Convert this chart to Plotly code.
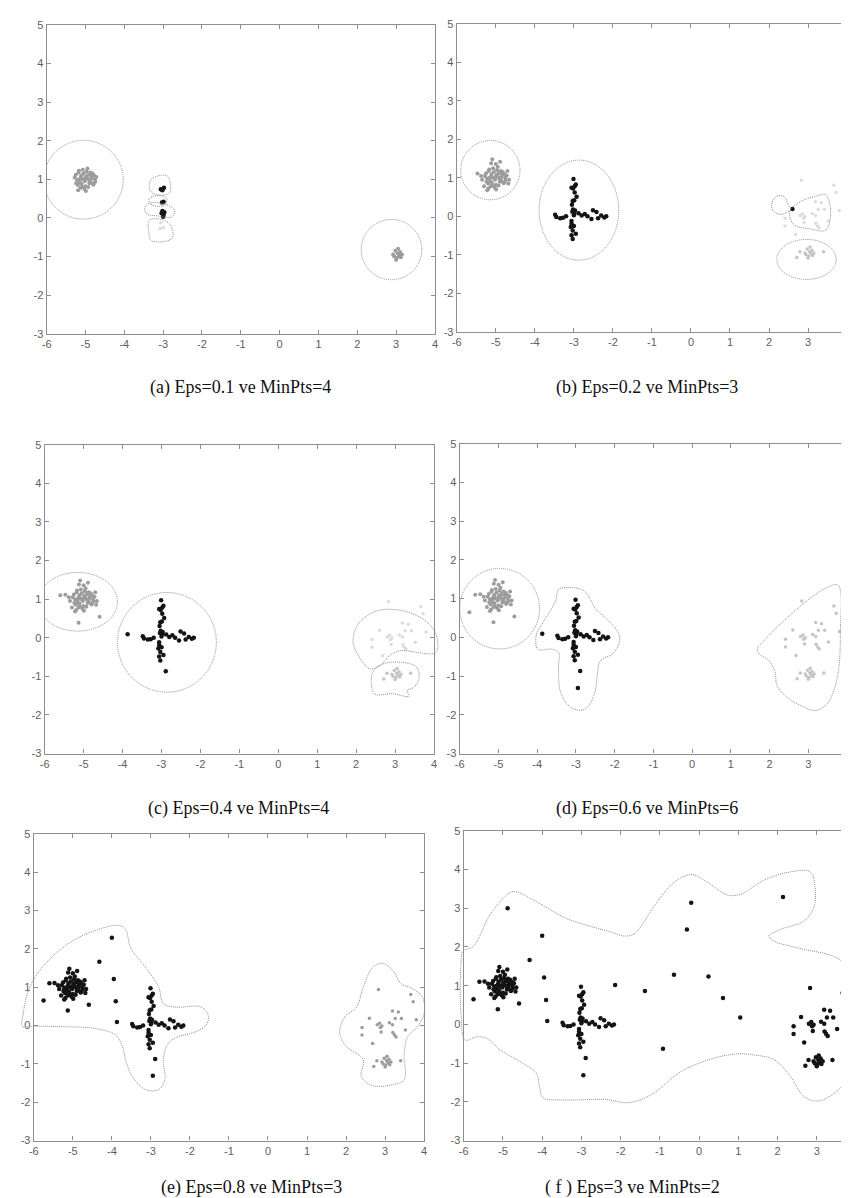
import plotly.graph_objects as go

# ---------------- base data ----------------
blob_core_x = [-5.25,-5.18,-5.12,-5.05,-4.98,-4.92,-4.85,-4.78,-4.72,-5.22,-5.15,-5.08,-5.02,-4.95,-4.88,
               -4.82,-4.75,-5.28,-5.20,-5.10,-5.00,-4.90,-4.80,-5.17,-5.07,-4.97,-4.87,-5.13,-5.03,-4.93,
               -5.24,-4.84,-4.76,-5.11,-5.01,-4.91,-5.19,-4.99,-4.79,-5.09,-4.95,-5.16,-4.86]
blob_core_y = [1.12,1.18,1.05,1.15,1.08,1.12,1.02,1.10,1.06,0.98,0.92,1.00,0.95,1.02,0.96,
               1.15,0.94,1.05,0.85,0.88,0.82,0.90,0.86,1.22,1.25,1.20,1.18,0.78,0.75,0.80,
               0.90,1.08,1.00,1.10,1.03,0.98,0.72,0.70,0.88,0.80,1.28,1.00,0.92]
blob_fringe_x = [-5.47,-5.38,-5.09,-4.89,-5.12,-4.66,-4.68,-5.35,-5.30,-4.70,-5.00,-5.22]
blob_fringe_y = [1.11,1.05,1.48,1.42,1.38,0.95,0.85,0.95,0.78,1.18,1.36,0.68]
blob_near_x = [-5.60,-5.13,-4.59,-5.75]
blob_near_y = [1.10,0.39,0.54,0.65]
left_far_x = [-4.32,-4.00,-3.95,-3.90]
left_far_y = [1.66,2.29,1.21,0.63]
left_mid_x = [-3.87]
left_mid_y = [0.09]
top_out_x = [-4.88]
top_out_y = [3.00]

cross_core_x = [-3.06,-3.02,-2.98,-3.03,-2.99,-3.02,-2.97,-3.04,-2.99,-3.00]
cross_core_y = [0.74,0.72,0.78,0.40,0.42,0.18,0.15,0.12,0.08,0.03]
cross_rest_x = [-3.01,-2.95,-2.98,-2.93,-3.05,-3.06,-3.06,-3.08,-3.00,-3.03,-3.06,-3.03,-2.95,
                -3.48,-3.45,-3.35,-3.28,-3.20,-2.88,-2.80,-2.72,-2.65,-2.55,-2.51,-2.42,-2.38,
                -2.30,-2.22,-2.17]
cross_rest_y = [0.97,0.83,0.62,0.51,0.30,-0.12,-0.19,-0.28,-0.25,-0.37,-0.49,-0.59,-0.45,
                0.04,-0.02,-0.05,-0.04,0.00,0.08,0.02,0.06,0.00,-0.07,0.16,0.11,-0.05,
                0.02,-0.03,0.00]
cross_low_x = [-3.06,-3.00,-3.08]
cross_low_y = [-0.12,-0.25,-0.28]
cross_out1_x = [-2.89]
cross_out1_y = [-0.87]
cross_out2_x = [-2.95]
cross_out2_y = [-1.31]

middle_x = [-2.14,-1.38,-0.64,0.24,0.61,1.05,-0.92,-0.31,-0.20,2.14]
middle_y = [1.02,0.86,1.28,1.24,0.68,0.18,-0.63,2.45,3.14,3.29]

right_join_x = [2.60]
right_join_y = [0.19]
right_up_x = [2.83,3.66,3.72,3.80,3.19,3.34,3.26,3.42,2.80,2.86,2.92,2.88,3.11,3.19,
              2.41,2.41,2.90,3.20,3.24,3.28,3.52,2.68]
right_up_y = [0.94,0.81,0.62,0.15,0.38,0.35,0.18,0.18,0.02,0.06,-0.01,-0.05,0.07,0.02,
              -0.05,-0.25,-0.17,-0.18,-0.25,-0.30,-0.12,-0.47]
right_low_x = [3.04,2.98,3.05,3.08,3.12,2.95,3.00,3.10,2.92,3.15,3.02]
right_low_y = [-0.92,-0.85,-0.80,-0.97,-1.02,-1.00,-1.08,-0.88,-0.95,-0.95,-1.03]
right_low_out_x = [2.79,3.40,2.71]
right_low_out_y = [-0.92,-0.92,-1.07]

# ---------------- cluster outlines ----------------
a_circ_cx, a_circ_cy, a_circ_rx, a_circ_ry = [-5.05, 2.88], [0.99, -0.82], [1.02, 0.78], [1.02, 0.78]
b_circ_cx, b_circ_cy, b_circ_rx, b_circ_ry = [-5.14, -2.87, 2.96], [1.20, 0.16, -1.12], [0.76, 1.02, 0.76], [0.77, 1.30, 0.52]
c_circ_cx, c_circ_cy, c_circ_rx, c_circ_ry = [-5.15, -2.86], [0.93, -0.12], [1.02, 1.27], [0.76, 1.29]
d_circ_cx, d_circ_cy, d_circ_rx, d_circ_ry = [-4.97], [0.74], [1.03], [1.04]

a_o1_x = [-3.30,-2.96,-2.86,-2.83,-3.04,-3.30,-3.36]
a_o1_y = [1.01,1.11,1.05,0.66,0.59,0.66,0.83]
a_o2_x = [-3.33,-3.09,-2.92,-2.94,-3.13,-3.32,-3.37]
a_o2_y = [0.53,0.58,0.51,0.34,0.30,0.36,0.47]
a_o3_x = [-3.47,-3.30,-2.92,-2.70,-2.79,-3.13,-3.43]
a_o3_y = [0.28,0.39,0.34,0.19,0.02,0.05,0.11]
a_o4_x = [-3.36,-3.04,-2.81,-2.77,-3.30,-3.37]
a_o4_y = [-0.06,-0.04,-0.19,-0.53,-0.59,-0.36]

b_o1_x = [2.55,2.31,2.10,2.08,2.23,2.40,2.48]
b_o1_y = [0.18,0.05,0.15,0.37,0.54,0.50,0.32]
b_o2_x = [2.55,2.86,3.16,3.45,3.58,3.45,3.03,2.65,2.54]
b_o2_y = [0.18,0.41,0.51,0.56,0.11,-0.36,-0.32,-0.23,-0.02]

c_o1_x = [1.92,2.05,2.52,3.19,3.79,4.05,4.05,3.11,2.86,2.60,2.35,2.14,1.97]
c_o1_y = [-0.08,0.35,0.69,0.70,0.43,0.09,-0.38,-0.34,-0.47,-0.72,-0.81,-0.59,-0.29]
c_o2_x = [2.43,2.69,3.19,3.55,3.62,3.49,3.32,3.36,2.94,2.48,2.39]
c_o2_y = [-0.89,-0.68,-0.64,-0.76,-1.02,-1.28,-1.36,-1.52,-1.45,-1.46,-1.19]

d_o1_x = [-4.00,-4.02,-3.85,-3.53,-3.45,-3.20,-2.78,-2.48,-2.19,-1.89,-1.89,-2.06,-2.37,-2.44,
          -2.52,-2.73,-2.94,-3.20,-3.41,-3.45,-3.45,-3.66,-3.87]
d_o1_y = [-0.30,0.08,0.38,0.93,1.23,1.29,1.19,0.72,0.46,0.08,-0.17,-0.43,-0.60,-0.90,
          -1.45,-1.83,-1.88,-1.75,-1.37,-0.77,-0.39,-0.30,-0.33]
d_o2_x = [1.68,1.85,2.36,2.95,3.45,3.75,3.83,3.83,3.79,3.66,3.49,3.20,2.86,2.44,2.19,2.14,1.98,1.73]
d_o2_y = [-0.30,-0.09,0.42,0.93,1.27,1.36,1.19,0.25,-0.77,-1.37,-1.71,-1.89,-1.79,-1.54,-1.24,-0.90,-0.60,-0.43]

e_o1_x = [-6.29,-6.27,-6.14,-5.85,-5.26,-4.58,-3.82,-3.65,-3.52,-3.14,-2.80,-2.68,-2.38,-1.71,-1.52,
          -1.62,-1.96,-2.30,-2.55,-2.68,-2.64,-2.80,-3.14,-3.48,-3.65,-3.73,-3.90,-4.41,-5.26,-6.02]
e_o1_y = [-0.03,0.31,0.91,1.43,2.03,2.42,2.61,2.51,2.03,1.52,1.00,0.57,0.48,0.48,0.23,
          -0.03,-0.20,-0.29,-0.46,-0.89,-1.41,-1.67,-1.67,-1.32,-0.89,-0.55,-0.25,-0.08,-0.03,-0.02]
e_o2_x = [1.84,1.97,2.27,2.44,2.69,2.94,3.20,3.41,3.70,3.96,4.00,3.83,3.58,3.49,3.49,3.20,2.65,2.39,2.44,2.01,1.86]
e_o2_y = [-0.12,0.23,0.48,1.00,1.52,1.62,1.43,1.09,0.96,0.74,0.31,-0.03,-0.29,-0.72,-1.41,-1.54,-1.56,-1.32,-0.89,-0.55,-0.29]

f_o1_x = [-6.02,-5.75,-5.33,-4.86,-4.70,-4.15,-3.39,-2.30,-1.88,-1.63,-1.12,-0.62,-0.20,0.14,0.73,1.06,
          1.65,2.24,2.83,2.96,2.92,2.66,2.07,1.78,1.91,2.49,3.50,3.84,4.00,3.92,3.76,3.34,3.00,2.66,
          2.33,1.91,1.40,0.98,0.39,-0.45,-1.21,-1.79,-2.38,-3.48,-3.98,-4.07,-4.15,-4.57,-5.07,-5.41,
          -5.66,-5.96,-6.07,-6.07]
f_o1_y = [1.89,2.02,2.83,3.38,3.43,3.17,2.74,2.40,2.28,2.36,3.09,3.68,3.87,3.72,3.34,3.36,
          3.72,3.92,3.94,3.51,3.00,2.66,2.45,2.28,2.15,1.98,1.72,1.38,0.28,-0.57,-1.43,-1.85,-1.98,-1.85,
          -1.34,-0.91,-0.79,-0.76,-0.87,-1.21,-1.81,-2.02,-1.94,-1.95,-1.89,-1.60,-1.26,-0.96,-0.66,-0.36,
          -0.32,-0.40,0.28,1.55]

x_ticks = [-6, -5, -4, -3, -2, -1, 0, 1, 2, 3, 4]
x_ticklabels = ['-6', '-5', '-4', '-3', '-2', '-1', '0', '1', '2', '3', '4']
y_ticks = [-3, -2, -1, 0, 1, 2, 3, 4, 5]
y_ticklabels = ['-3', '-2', '-1', '0', '1', '2', '3', '4', '5']

captions = ['(a) Eps=0.1 ve MinPts=4', '(b) Eps=0.2 ve MinPts=3', '(c) Eps=0.4 ve MinPts=4',
            '(d) Eps=0.6 ve MinPts=6', '(e) Eps=0.8 ve MinPts=3', '( f ) Eps=3 ve MinPts=2']

# ---------------- styling / layout ----------------
W, H = 849, 1198
BLACK, GRAY, LIGHT, FAINT = '#141414', '#9c9c9c', '#c4c4c4', '#dcdcdc'
OUTLINE = '#8e8e8e'
DOTS = '1px,1px'

# pixel boxes of the six panels: (left, right, top, bottom)
boxes = [(34, 426, 11, 323), (448, 842, 10, 321),
         (32, 425, 435, 747), (451, 842, 434, 747),
         (21, 415, 828, 1138), (455, 849, 825, 1138)]
xranges = [[-6, 4]] * 5 + [[-6, 3.95]]
caption_pos = [(230, 377), (640, 377), (228, 803), (640, 803), (241, 1185), (625, 1185)]
EXT = 14  # px the outline overlay reaches past the frame


def cat(*pairs):
    xs, ys = [], []
    for px, py in pairs:
        xs += px
        ys += py
    return xs, ys


P = lambda a, b: (a, b)
groups = {
    1: [(cat(P(blob_core_x, blob_core_y)), GRAY, 4),
        (cat(P(cross_low_x, cross_low_y)), FAINT, 3.5),
        (cat(P(cross_core_x, cross_core_y)), BLACK, 4.5),
        (cat(P(right_low_x, right_low_y)), GRAY, 4)],
    2: [(cat(P(blob_core_x, blob_core_y), P(blob_fringe_x, blob_fringe_y)), GRAY, 4),
        (cat(P(cross_core_x, cross_core_y), P(cross_rest_x, cross_rest_y)), BLACK, 4.5),
        (cat(P(right_up_x, right_up_y)), FAINT, 3.5),
        (cat(P(right_low_x, right_low_y), P(right_low_out_x, right_low_out_y)), LIGHT, 3.5),
        (cat(P(right_join_x, right_join_y)), BLACK, 4.5)],
    3: [(cat(P(blob_core_x, blob_core_y), P(blob_fringe_x, blob_fringe_y), P(blob_near_x[:3], blob_near_y[:3])), GRAY, 4),
        (cat(P(cross_core_x, cross_core_y), P(cross_rest_x, cross_rest_y), P(left_mid_x, left_mid_y),
             P(cross_out1_x, cross_out1_y)), BLACK, 4.5),
        (cat(P(right_up_x, right_up_y), P(right_join_x, right_join_y)), FAINT, 3.5),
        (cat(P(right_low_x, right_low_y), P(right_low_out_x, right_low_out_y)), LIGHT, 3.5)],
    4: [(cat(P(blob_core_x, blob_core_y), P(blob_fringe_x, blob_fringe_y), P(blob_near_x, blob_near_y)), GRAY, 4),
        (cat(P(cross_core_x, cross_core_y), P(cross_rest_x, cross_rest_y), P(left_mid_x, left_mid_y),
             P(cross_out1_x, cross_out1_y), P(cross_out2_x, cross_out2_y)), BLACK, 4.5),
        (cat(P(right_up_x, right_up_y), P(right_join_x, right_join_y),
             P(right_low_x, right_low_y), P(right_low_out_x, right_low_out_y)), LIGHT, 3.5)],
    5: [(cat(P(blob_core_x, blob_core_y), P(blob_fringe_x, blob_fringe_y), P(blob_near_x, blob_near_y),
             P(left_far_x, left_far_y), P(left_mid_x, left_mid_y), P(cross_core_x, cross_core_y),
             P(cross_rest_x, cross_rest_y), P(cross_out1_x, cross_out1_y), P(cross_out2_x, cross_out2_y)), BLACK, 4.5),
        (cat(P(right_up_x, right_up_y), P(right_join_x, right_join_y),
             P(right_low_x, right_low_y), P(right_low_out_x, right_low_out_y)), GRAY, 3.5)],
    6: [(cat(P(blob_core_x, blob_core_y), P(blob_fringe_x, blob_fringe_y), P(blob_near_x, blob_near_y),
             P(left_far_x, left_far_y), P(left_mid_x, left_mid_y), P(top_out_x, top_out_y),
             P(cross_core_x, cross_core_y), P(cross_rest_x, cross_rest_y), P(cross_out1_x, cross_out1_y),
             P(cross_out2_x, cross_out2_y), P(middle_x, middle_y), P(right_up_x, right_up_y),
             P(right_join_x, right_join_y), P(right_low_x, right_low_y),
             P(right_low_out_x, right_low_out_y)), BLACK, 4.5)],
}

outlines = {
    1: [(a_o1_x, a_o1_y), (a_o2_x, a_o2_y), (a_o3_x, a_o3_y), (a_o4_x, a_o4_y)],
    2: [(b_o1_x, b_o1_y), (b_o2_x, b_o2_y)],
    3: [(c_o1_x, c_o1_y), (c_o2_x, c_o2_y)],
    4: [(d_o1_x, d_o1_y), (d_o2_x, d_o2_y)],
    5: [(e_o1_x, e_o1_y), (e_o2_x, e_o2_y)],
    6: [(f_o1_x, f_o1_y)],
}
ellipses = {
    1: (a_circ_cx, a_circ_cy, a_circ_rx, a_circ_ry),
    2: (b_circ_cx, b_circ_cy, b_circ_rx, b_circ_ry),
    3: (c_circ_cx, c_circ_cy, c_circ_rx, c_circ_ry),
    4: (d_circ_cx, d_circ_cy, d_circ_rx, d_circ_ry),
}

fig = go.Figure()
shapes = []
annotations = []
layout = dict(width=W, height=H, margin=dict(l=0, r=0, t=0, b=0),
              paper_bgcolor='white', plot_bgcolor='rgba(0,0,0,0)', showlegend=False)

tickfont = dict(family='Liberation Sans Narrow, Liberation Sans, Arial', size=11, color='#5e5e5e')

for i in range(1, 7):
    xa = 'x' if i == 1 else f'x{i}'
    ya = 'y' if i == 1 else f'y{i}'
    ox_id, oy_id = f'x{i + 6}', f'y{i + 6}'
    l, r, t, b = boxes[i - 1]
    x0, x1 = xranges[i - 1]
    common = dict(showline=True, linecolor=OUTLINE, linewidth=1.3, mirror='ticks', ticks='inside',
                  ticklen=4, tickcolor=OUTLINE, tickwidth=1, showgrid=False, zeroline=False,
                  tickfont=tickfont, fixedrange=True, ticklabeloverflow='allow')
    layout['xaxis' if i == 1 else f'xaxis{i}'] = dict(
        common, domain=[l / W, r / W], range=[x0, x1], anchor=ya,
        tickmode='array', tickvals=x_ticks, ticktext=x_ticklabels)
    layout['yaxis' if i == 1 else f'yaxis{i}'] = dict(
        common, domain=[1 - b / H, 1 - t / H], range=[-3, 5], anchor=xa,
        tickmode='array', tickvals=y_ticks, ticktext=y_ticklabels)

    # invisible overlay axes with the same scale, reaching a little past the frame,
    # so that outlines can spill over the frame as in the original
    ppu = (r - l) / (x1 - x0)
    le, re = max(0, l - EXT), min(W, r + EXT)
    layout[f'xaxis{i + 6}'] = dict(domain=[le / W, re / W], range=[x0 - (l - le) / ppu, x1 + (re - r) / ppu],
                                   visible=False, anchor=oy_id, fixedrange=True)
    layout[f'yaxis{i + 6}'] = dict(domain=[1 - b / H, 1 - t / H], range=[-3, 5],
                                   visible=False, anchor=ox_id, fixedrange=True)

    # outlines (fine dotted)
    for oxs, oys in outlines[i]:
        fig.add_trace(go.Scatter(x=oxs + oxs[:1], y=oys + oys[:1], mode='lines',
                                 line=dict(color=OUTLINE, width=1, dash=DOTS, shape='spline', smoothing=1.0),
                                 xaxis=ox_id, yaxis=oy_id, hoverinfo='skip'))
    if i in ellipses:
        cx, cy, rx, ry = ellipses[i]
        for k in range(len(cx)):
            shapes.append(dict(type='circle', xref=xa, yref=ya,
                               x0=cx[k] - rx[k], x1=cx[k] + rx[k], y0=cy[k] - ry[k], y1=cy[k] + ry[k],
                               line=dict(color=OUTLINE, width=1, dash=DOTS)))
    # points
    for (gx, gy), col, sz in groups[i]:
        fig.add_trace(go.Scatter(x=gx, y=gy, mode='markers',
                                 marker=dict(color=col, size=sz, line=dict(width=0)),
                                 xaxis=xa, yaxis=ya, hoverinfo='skip'))
    cxp, cyp = caption_pos[i - 1]
    annotations.append(dict(text=captions[i - 1], x=cxp / W, y=1 - cyp / H, xref='paper', yref='paper',
                            showarrow=False, xanchor='center', yanchor='middle',
                            font=dict(family='Liberation Serif, Times New Roman, serif', size=18, color='#111111')))

layout['shapes'] = shapes
layout['annotations'] = annotations
fig.update_layout(**layout)
fig.write_html('out.html')
